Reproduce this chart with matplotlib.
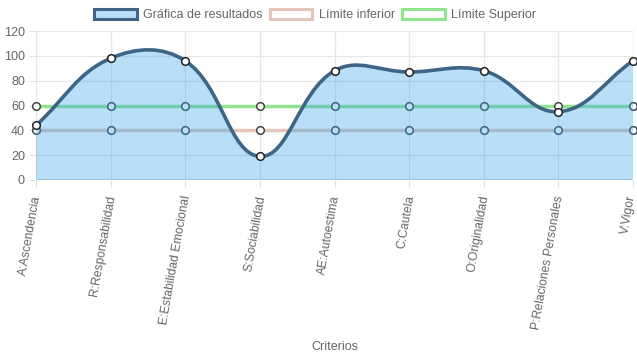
import numpy as np
import matplotlib
matplotlib.use("Agg")
import matplotlib.pyplot as plt
import matplotlib.transforms as mtransforms
from matplotlib.path import Path
from matplotlib.patches import PathPatch, Patch

plt.rcParams['font.family'] = ['Liberation Sans', 'DejaVu Sans']

categories = ["A:Ascendencia", "R:Responsabilidad", "E:Estabilidad Emocional",
              "S:Sociabilidad", "AE:Autoestima", "C:Cautela", "O:Originalidad",
              "P:Relaciones Personales", "V:Vigor"]
resultados = [44, 98, 96, 19, 88, 87, 88, 55, 96]
limite_inferior = [40, 40, 40, 40, 40, 40, 40, 40, 40]
limite_superior = [60, 60, 60, 60, 60, 60, 60, 60, 60]
y_ticks = [0, 20, 40, 60, 80, 100, 120]

W, H = 637, 359
fig = plt.figure(figsize=(W / 100, H / 100), dpi=100)
L, R, T, B = 36, 633, 31, 180
ax = fig.add_axes([L / W, 1 - B / H, (R - L) / W, (B - T) / H])
n = len(categories)
x = np.arange(n)
ax.set_xlim(0, n - 1)
ax.set_ylim(0, 120)

# pixel scales for Chart.js-like spline (tension 0.4)
sx = (R - L) / (n - 1)
sy = (B - T) / 120.0


def spline_path(xs, ys, tension=0.4):
    px = np.array(xs, float) * sx
    py = np.array(ys, float) * sy
    m = len(px)
    cps = []
    for i in range(m):
        p = (px[max(i - 1, 0)], py[max(i - 1, 0)])
        c = (px[i], py[i])
        nx = (px[min(i + 1, m - 1)], py[min(i + 1, m - 1)])
        d01 = np.hypot(c[0] - p[0], c[1] - p[1])
        d12 = np.hypot(nx[0] - c[0], nx[1] - c[1])
        tot = d01 + d12
        s01 = d01 / tot if tot else 0
        s12 = d12 / tot if tot else 0
        fa, fb = tension * s01, tension * s12
        prev_cp = (c[0] - fa * (nx[0] - p[0]), c[1] - fa * (nx[1] - p[1]))
        next_cp = (c[0] + fb * (nx[0] - p[0]), c[1] + fb * (nx[1] - p[1]))
        cps.append((prev_cp, next_cp))
    verts = [(px[0], py[0])]
    codes = [Path.MOVETO]
    for i in range(1, m):
        verts += [cps[i - 1][1], cps[i][0], (px[i], py[i])]
        codes += [Path.CURVE4] * 3
    verts = [(vx / sx, min(max(vy / sy, 0), 120)) for vx, vy in verts]
    return verts, codes


# grid
for v in y_ticks:
    ax.axhline(v, color="#cccccc" if v == 0 else "#e6e6e6", lw=1.2 if v == 0 else 0.9, zorder=0)
for xi in x:
    ax.axvline(xi, color="#e6e6e6", lw=0.9, zorder=0)

lower_col = "#e3c6b9"
upper_col = "#8fe68f"
res_line = "#3e6586"
res_fill = (54 / 255, 162 / 255, 235 / 255, 0.35)

ax.plot(x, limite_superior, color=upper_col, lw=2.5, zorder=2, marker="o", ms=5.5,
        mfc="white", mec="#444444", mew=1.1, clip_on=False)
ax.plot(x, limite_inferior, color=lower_col, lw=2.5, zorder=2, marker="o", ms=5.5,
        mfc="white", mec="#444444", mew=1.1, clip_on=False)

verts, codes = spline_path(x, resultados)
fill_verts = verts + [(n - 1, 0), (0, 0), verts[0]]
fill_codes = codes + [Path.LINETO, Path.LINETO, Path.CLOSEPOLY]
ax.add_patch(PathPatch(Path(fill_verts, fill_codes), facecolor=res_fill, edgecolor="none", zorder=3))
ax.add_patch(PathPatch(Path(verts, codes), facecolor="none", edgecolor=res_line, lw=2.6, zorder=4,
                       capstyle="round", joinstyle="round"))
ax.plot(x, resultados, ls="none", marker="o", ms=5.5, mfc="white", mec="#222222", mew=1.1,
        zorder=5, clip_on=False)

for s in ax.spines.values():
    s.set_visible(False)

ax.set_yticks(y_ticks)
ax.set_xticks(x)
ax.set_xticklabels(categories, rotation=80, ha="right", va="center_baseline",
                   rotation_mode="anchor", fontsize=8.7)
ax.tick_params(axis="both", colors="#666666", labelsize=9, length=5, width=0.8, pad=3)
ax.tick_params(axis="x", color="#e0e0e0", pad=6, labelsize=8.7)
ax.tick_params(axis="y", color="#e0e0e0")
for lbl in ax.get_yticklabels() + ax.get_xticklabels():
    lbl.set_color("#666666")
last = ax.get_xticklabels()[-1]
last.set_transform(last.get_transform() + mtransforms.ScaledTranslation(-3 / 100, 0, fig.dpi_scale_trans))

fig.text(335 / W, 1 - 347 / H, "Criterios", ha="center", va="center", color="#666666", fontsize=9)

handles = [
    Patch(facecolor=res_fill, edgecolor=res_line, lw=2.2, label="Gráfica de resultados"),
    Patch(facecolor="white", edgecolor=lower_col, lw=2.2, label="Límite inferior"),
    Patch(facecolor="white", edgecolor=upper_col, lw=2.2, label="Límite Superior"),
]
leg = fig.legend(handles=handles, loc="center", bbox_to_anchor=(315 / W, 1 - 15 / H), ncol=3,
                 frameon=False, fontsize=9, handlelength=3.4, handleheight=0.95,
                 handletextpad=0.5, columnspacing=0.6, borderpad=0)
for t in leg.get_texts():
    t.set_color("#666666")

fig.savefig("out.png", dpi=100)
